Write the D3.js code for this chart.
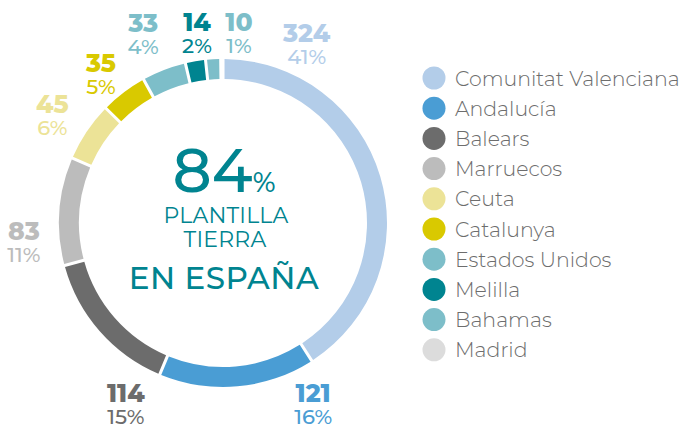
<!DOCTYPE html>
<html>
<head>
<meta charset="utf-8">
<script src="https://cdn.jsdelivr.net/npm/d3@7"></script>
<style>
  body { margin: 0; background: #fff; }
  svg { font-family: "Montserrat", Lato, sans-serif; }
</style>
</head>
<body>
<div class="main"></div>
<script>
// data
const categories = ["Comunitat Valenciana", "Andalucía", "Balears", "Marruecos", "Ceuta",
                    "Catalunya", "Estados Unidos", "Melilla", "Bahamas", "Madrid"];
const values = [324, 121, 114, 83, 45, 35, 33, 14, 10, 0];
const percents = ["41%", "16%", "15%", "11%", "6%", "5%", "4%", "2%", "1%", ""];
const colors = ["#b3cde9", "#4a9dd4", "#6c6c6c", "#bcbcbc", "#ece397",
                "#d9c900", "#7dbec9", "#008490", "#7dbec9", "#dcdcdc"];

// where each label block sits around the ring (degrees from top, radius)
const labelAngle = [25, 153.5, 208.3, 264.7, 302.4, 320.8, 337.2, 352.2, 4.8];
const labelRadius = [198, 202, 205, 200, 202, 193, 206, 192, 191];

const w = 686, h = 427;
const cx = 223, cy = 223;
const outerR = 164, innerR = 144;
const teal = "#008490";

const svg = d3.select(".main")
  .append("svg")
  .attr("width", w)
  .attr("height", h);

const rows = categories.map((c, i) => ({ name: c, value: values[i], pct: percents[i], color: colors[i], i: i }));

const pie = d3.pie()
  .value(d => d.value)
  .sort(null)
  .padAngle(0.014);

const arc = d3.arc()
  .innerRadius(innerR)
  .outerRadius(outerR);

const arcs = pie(rows).filter(d => d.data.value > 0);

const g = svg.append("g")
  .attr("transform", "translate(" + cx + "," + cy + ")");

g.selectAll("path")
  .data(arcs)
  .enter()
  .append("path")
  .attr("d", arc)
  .attr("fill", d => d.data.color);

// value labels
const lab = g.selectAll(".lab")
  .data(arcs)
  .enter()
  .append("g")
  .attr("class", "lab")
  .attr("transform", (d, i) => {
    const a = labelAngle[i] * Math.PI / 180;
    const r = labelRadius[i];
    return "translate(" + (r * Math.sin(a)) + "," + (-r * Math.cos(a)) + ")";
  });

lab.append("text")
  .attr("y", -1.5)
  .attr("text-anchor", "middle")
  .attr("font-size", "25px")
  .attr("font-weight", 800)
  .attr("fill", d => d.data.color)
  .text(d => d.data.value);

lab.append("text")
  .attr("y", 20.5)
  .attr("text-anchor", "middle")
  .attr("font-size", "21px")
  .attr("font-weight", 500)
  .attr("fill", d => d.data.color)
  .text(d => d.data.pct);

// centre text
const mid = svg.append("text")
  .attr("x", cx + 1)
  .attr("y", 192)
  .attr("text-anchor", "middle")
  .attr("fill", teal);
mid.append("tspan")
  .attr("font-size", "61px")
  .attr("font-weight", 500)
  .text("84");
mid.append("tspan")
  .attr("font-size", "27px")
  .attr("font-weight", 500)
  .text("%");

svg.append("text")
  .attr("x", cx + 3)
  .attr("y", 223)
  .attr("text-anchor", "middle")
  .attr("font-size", "22px")
  .attr("font-weight", 400)
  .attr("letter-spacing", "0.2px")
  .attr("fill", teal)
  .text("PLANTILLA");

svg.append("text")
  .attr("x", cx + 2)
  .attr("y", 247)
  .attr("text-anchor", "middle")
  .attr("font-size", "22px")
  .attr("font-weight", 400)
  .attr("letter-spacing", "0.2px")
  .attr("fill", teal)
  .text("TIERRA");

svg.append("text")
  .attr("x", cx + 1)
  .attr("y", 289)
  .attr("text-anchor", "middle")
  .attr("font-size", "31px")
  .attr("font-weight", 500)
  .attr("letter-spacing", "0.5px")
  .attr("fill", teal)
  .text("EN ESPAÑA");

// legend
const legend = svg.append("g")
  .attr("transform", "translate(434,78)");

const item = legend.selectAll(".item")
  .data(rows)
  .enter()
  .append("g")
  .attr("class", "item")
  .attr("transform", (d, i) => "translate(0," + (i * 30.2) + ")");

item.append("circle")
  .attr("r", 11.5)
  .attr("fill", d => d.color);

item.append("text")
  .attr("x", 21)
  .attr("y", 7.5)
  .attr("font-size", "20.5px")
  .attr("font-weight", 300)
  .attr("fill", "#6d6d6d")
  .text(d => d.name);
</script>
</body>
</html>
